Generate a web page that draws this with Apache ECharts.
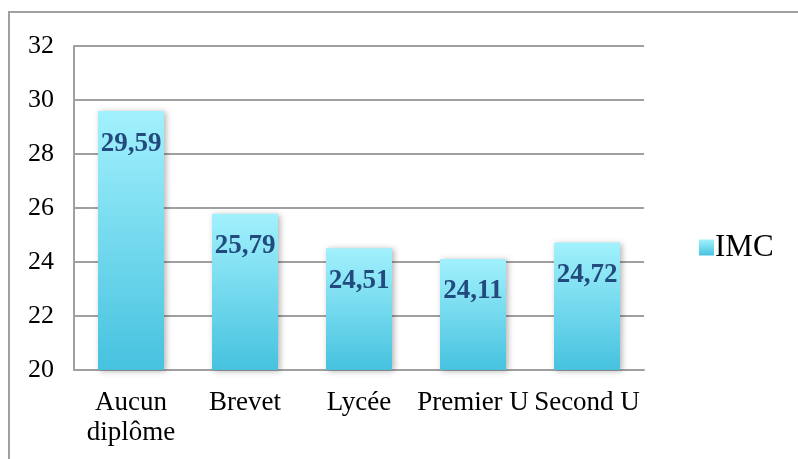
<!DOCTYPE html>
<html>
<head>
<meta charset="utf-8">
<script src="https://cdn.jsdelivr.net/npm/echarts@6/dist/echarts.min.js"></script>
<style>
    html, body { margin: 0; padding: 0; background: #fff; overflow: hidden; }
    #frame {
        position: absolute; left: 8px; top: 11px; width: 820px; height: 480px;
        border: 2px solid #a0a0a0;
    }
    #chart { position: absolute; left: 0; top: 0; width: 798px; height: 459px; }
</style>
</head>
<body>
<div id="frame"></div>
<div id="chart"></div>
<script>
// données
const categories = ['Aucun\ndiplôme', 'Brevet', 'Lycée', 'Premier U', 'Second U'];
const imcValues = [29.59, 25.79, 24.51, 24.11, 24.72];
const seriesName = 'IMC';

const serif = '"Liberation Serif", "DejaVu Serif", serif';
const barColor = new echarts.graphic.LinearGradient(0, 0, 0, 1, [
    { offset: 0, color: '#a2f1fd' },
    { offset: 1, color: '#46c2df' },
]);

const chart = echarts.init(document.getElementById('chart'));
chart.setOption({
    animation: false,
    grid: { left: 74, top: 46, width: 570, height: 324 },
    legend: {
        data: [{ name: seriesName, icon: 'rect' }],
        left: 694,
        top: 227,
        orient: 'vertical',
        itemWidth: 15,
        itemHeight: 16,
        itemGap: 4,
        textStyle: { fontFamily: serif, fontSize: 31, color: '#000', padding: [0, 0, 0, -4] },
    },
    xAxis: {
        type: 'category',
        data: categories,
        axisTick: { show: false },
        axisLine: { lineStyle: { color: '#a0a0a0', width: 2 } },
        axisLabel: {
            margin: 18,
            fontFamily: serif,
            fontSize: 27,
            lineHeight: 30,
            color: '#000',
            interval: 0,
        },
    },
    yAxis: {
        type: 'value',
        min: 20,
        max: 32,
        interval: 2,
        axisLine: { show: true, lineStyle: { color: '#a0a0a0', width: 2 } },
        axisTick: { show: false },
        splitLine: { lineStyle: { color: '#a0a0a0', width: 2 } },
        axisLabel: { margin: 20, fontFamily: serif, fontSize: 26, color: '#000' },
    },
    series: [
        {
            name: seriesName,
            type: 'bar',
            data: imcValues,
            barWidth: 66,
            itemStyle: {
                color: barColor,
                shadowColor: 'rgba(0,0,0,0.3)',
                shadowBlur: 6,
                shadowOffsetX: 2,
                shadowOffsetY: 1,
            },
            label: {
                show: true,
                position: 'insideTop',
                distance: 19,
                fontFamily: serif,
                fontSize: 27,
                fontWeight: 'bold',
                color: '#234a7c',
                formatter: p => p.value.toFixed(2).replace('.', ','),
            },
        },
    ],
});
</script>
</body>
</html>
